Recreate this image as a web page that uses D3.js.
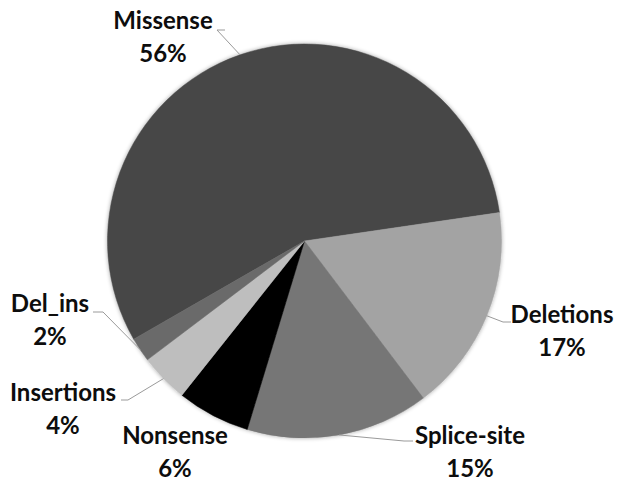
<!DOCTYPE html>
<html>
<head>
<meta charset="utf-8">
<script src="https://cdn.jsdelivr.net/npm/d3@7/dist/d3.min.js"></script>
<style>
  html, body { margin: 0; padding: 0; background: #fff; }
  svg { display: block; }
  .lbl { font-family: Lato, "Open Sans", sans-serif; font-weight: 700; font-size: 24px; fill: #0d0d0d; }
  .leader { fill: none; stroke: #9a9a9a; stroke-width: 1; }
</style>
</head>
<body>
<svg id="chart" width="619" height="481"></svg>
<script>
// data, in drawing order (clockwise)
const categories = ['Missense', 'Deletions', 'Splice-site', 'Nonsense', 'Insertions', 'Del_ins'];
const values     = [56, 17, 15, 6, 4, 2];
const colors     = ['#474747', '#a3a3a3', '#767676', '#030303', '#bebebe', '#6b6b6b'];

// layout only: where each label's two lines sit, and the leader elbow
const labelLayout = {
    'Missense':    { x: 163, y: 29,  elbow: [[217, 30], [225, 30]] },
    'Deletions':   { x: 562, y: 323, elbow: [[503, 322], [511, 322]] },
    'Splice-site': { x: 470, y: 444, elbow: [[404, 441], [413, 441]] },
    'Nonsense':    { x: 175, y: 444, elbow: null },
    'Insertions':  { x: 63,  y: 401, elbow: [[128, 400], [121, 400]] },
    'Del_ins':     { x: 50,  y: 312, elbow: [[103, 312], [93, 312]] }
};

const cx = 304.5, cy = 241, radius = 197;
const startDeg = -119.9;

const svg = d3.select('#chart');

const defs = svg.append('defs');
const shadow = defs.append('filter').attr('id', 'soft')
    .attr('x', '-10%').attr('y', '-10%').attr('width', '120%').attr('height', '120%');
shadow.append('feGaussianBlur').attr('in', 'SourceAlpha').attr('stdDeviation', 2.2).attr('result', 'b');
shadow.append('feComponentTransfer').attr('in', 'b').attr('result', 'b2')
    .append('feFuncA').attr('type', 'linear').attr('slope', 0.35);
const merge = shadow.append('feMerge');
merge.append('feMergeNode').attr('in', 'b2');
merge.append('feMergeNode').attr('in', 'SourceGraphic');

const data = categories.map((c, i) => ({ name: c, value: values[i], color: colors[i] }));

const pie = d3.pie()
    .sort(null)
    .value(d => d.value)
    .startAngle(startDeg * Math.PI / 180)
    .endAngle(startDeg * Math.PI / 180 + 2 * Math.PI);

const arc = d3.arc().innerRadius(0).outerRadius(radius);
const arcs = pie(data);

const g = svg.append('g').attr('transform', `translate(${cx},${cy})`);
g.append('g').attr('filter', 'url(#soft)')
    .selectAll('path')
    .data(arcs)
    .join('path')
    .attr('d', arc)
    .attr('fill', d => d.data.color)
    .attr('stroke', d => d.data.color)
    .attr('stroke-width', 0.5);

// leader lines: from the slice's outer edge at mid angle to the label
const lines = svg.append('g');
arcs.forEach(a => {
    const lay = labelLayout[a.data.name];
    if (!lay.elbow) return;
    const mid = (a.startAngle + a.endAngle) / 2;
    const edge = [cx + radius * Math.sin(mid), cy - radius * Math.cos(mid)];
    const pts = [edge, lay.elbow[0], lay.elbow[1]];
    lines.append('path').attr('class', 'leader').attr('d', d3.line()(pts));
});

const labels = svg.append('g');
arcs.forEach(a => {
    const lay = labelLayout[a.data.name];
    const t = labels.append('text').attr('class', 'lbl').attr('text-anchor', 'middle');
    t.append('tspan').attr('x', lay.x).attr('y', lay.y).text(a.data.name);
    t.append('tspan').attr('x', lay.x).attr('y', lay.y + 33).text(a.data.value + '%');
});
</script>
</body>
</html>
